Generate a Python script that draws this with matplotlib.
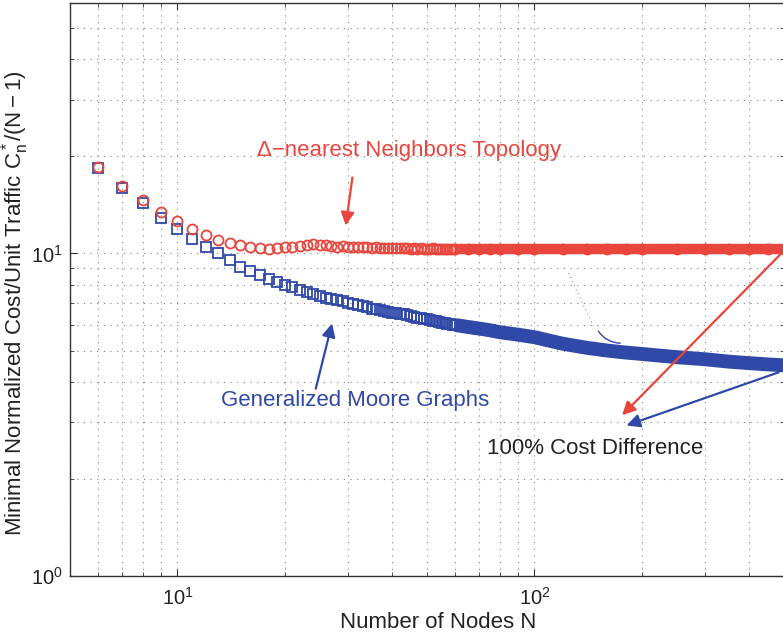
import matplotlib
matplotlib.use("Agg")
import matplotlib.pyplot as plt
from matplotlib.ticker import LogLocator, NullFormatter

# ==========================
# data
# ==========================
N = list(range(6, 61)) + [65, 70, 75, 80, 90, 100, 120, 140, 160, 180, 200,
                          250, 300, 350, 400, 450, 500]

# Delta-nearest neighbors topology
cost_nearest = [18.6, 16.2, 14.6, 13.4, 12.6, 11.9, 11.4, 11.0, 10.8, 10.6,      # 6-15
                10.45, 10.4, 10.35, 10.4, 10.45, 10.5, 10.55, 10.65, 10.7, 10.65,  # 16-25
                10.6, 10.55, 10.5, 10.55, 10.5, 10.45, 10.45, 10.5, 10.45, 10.4,   # 26-35
                10.45, 10.4, 10.4, 10.4, 10.4, 10.4, 10.4, 10.38, 10.4, 10.35,     # 36-45
                10.38, 10.35, 10.4, 10.35, 10.35, 10.35, 10.38, 10.35, 10.35, 10.35,  # 46-55
                10.35, 10.35, 10.35, 10.35, 10.35,                                 # 56-60
                10.35, 10.35, 10.35, 10.35, 10.35, 10.35, 10.35, 10.35, 10.35,
                10.35, 10.35, 10.35, 10.35, 10.35, 10.35, 10.35, 10.35]

# generalized Moore graphs
cost_moore = [18.4, 16.0, 14.3, 12.9, 11.9, 11.1, 10.5, 10.0, 9.55, 9.1,         # 6-15
              8.8, 8.55, 8.35, 8.15, 8.0, 7.85, 7.7, 7.6, 7.5, 7.4,               # 16-25
              7.3, 7.25, 7.15, 7.1, 7.0, 6.95, 6.9, 6.85, 6.8, 6.75,              # 26-35
              6.72, 6.68, 6.65, 6.6, 6.55, 6.53, 6.5, 6.47, 6.43, 6.4,            # 36-45
              6.37, 6.33, 6.3, 6.28, 6.25, 6.22, 6.19, 6.16, 6.13, 6.1,           # 46-55
              6.08, 6.06, 6.04, 6.02, 6.0,                                        # 56-60
              5.92, 5.85, 5.78, 5.7, 5.6, 5.5, 5.25, 5.1, 5.0,
              4.93, 4.88, 4.77, 4.7, 4.62, 4.57, 4.53, 4.5]

band_start = 60  # from here on the markers merge into a solid band

red = "#E8453C"
blue = "#3048A8"

# fonts (Helvetica-like)
plt.rcParams["font.family"] = ["Liberation Sans", "DejaVu Sans"]
plt.rcParams["mathtext.fontset"] = "custom"
plt.rcParams["mathtext.rm"] = "Liberation Sans"
plt.rcParams["mathtext.it"] = "Liberation Sans:italic"
plt.rcParams["mathtext.bf"] = "Liberation Sans:bold"

fig = plt.figure(figsize=(7.83, 6.39), dpi=100)
ax = fig.add_axes([70 / 783, 63 / 639, 714 / 783, 573.5 / 639])

# dense part drawn as thick band
nb = [n for n in N if n >= band_start]
ax.plot(nb, [c for n, c in zip(N, cost_nearest) if n >= band_start],
        color=red, lw=7.5, solid_capstyle="butt", zorder=3)
ax.plot(nb, [c for n, c in zip(N, cost_moore) if n >= band_start],
        color=blue, lw=10, solid_capstyle="butt", zorder=3)

# markers
ax.plot(N, cost_nearest, "o", ms=7.2, mfc="none", mec=red, mew=1.3, zorder=4)
ax.plot(N, cost_moore, "s", ms=7.8, mfc="none", mec=blue, mew=1.3, zorder=3)

ax.set_xscale("log")
ax.set_yscale("log")
ax.set_xlim(5, 500)
ax.set_ylim(1, 60)

ax.xaxis.set_minor_locator(LogLocator(base=10, subs=range(2, 10)))
ax.yaxis.set_minor_locator(LogLocator(base=10, subs=range(2, 10)))
ax.xaxis.set_minor_formatter(NullFormatter())
ax.yaxis.set_minor_formatter(NullFormatter())

ax.grid(True, which="both", linestyle=(0, (1, 5)), linewidth=0.8, color="#808080")
ax.tick_params(which="both", direction="in", top=True, right=True,
               colors="#333333", labelcolor="#222222", labelsize=14.5)
ax.tick_params(which="major", length=5)
ax.tick_params(which="minor", length=3)
ax.tick_params(axis="x", pad=8)
ax.tick_params(axis="y", pad=5)
for s in ax.spines.values():
    s.set_color("#333333")
    s.set_linewidth(1.0)

# axis labels
fig.text(438 / 783, 1 - 622 / 639, "Number of Nodes N", fontsize=16,
         ha="center", va="center", color="#222222")
fig.text(15 / 783, 1 - 303 / 639,
         r"Minimal Normalized Cost/Unit Traffic $\mathregular{C_n^*/(N-1)}$",
         fontsize=16, rotation=90, ha="center", va="center", color="#222222")

# annotations
arrow_red = dict(arrowstyle="-|>", color=red, lw=1.6, mutation_scale=20,
                 shrinkA=0, shrinkB=0)
arrow_blue = dict(arrowstyle="-|>", color=blue, lw=1.6, mutation_scale=20,
                  shrinkA=0, shrinkB=0)

ax.text(44.4, 20.9, "\u0394\u2212nearest Neighbors Topology", color=red,
        fontsize=16, ha="center", va="center")
ax.annotate("", xy=(29.6, 12.2), xytext=(30.9, 17.2), arrowprops=arrow_red)

ax.text(31.5, 3.5, "Generalized Moore Graphs", color=blue,
        fontsize=16, ha="center", va="center")
ax.annotate("", xy=(27.1, 6.07), xytext=(24.4, 3.81), arrowprops=arrow_blue)

ax.text(148, 2.49, "100% Cost Difference", color="#222222",
        fontsize=16, ha="center", va="center")
ax.annotate("", xy=(176, 3.15), xytext=(489, 9.95), arrowprops=arrow_red)
ax.annotate("", xy=(181, 2.93), xytext=(483, 4.28), arrowprops=arrow_blue)

# faint leftover strokes in the original
ax.plot([124.5, 146.2], [8.69, 5.95], color=blue, lw=0.8,
        linestyle=(0, (1, 3)), alpha=0.6)
ax.annotate("", xy=(174, 5.27), xytext=(151, 5.74),
            arrowprops=dict(arrowstyle="-", color=blue, lw=1.0,
                            connectionstyle="arc3,rad=0.25",
                            shrinkA=0, shrinkB=0))

plt.savefig("out.png", dpi=100)
